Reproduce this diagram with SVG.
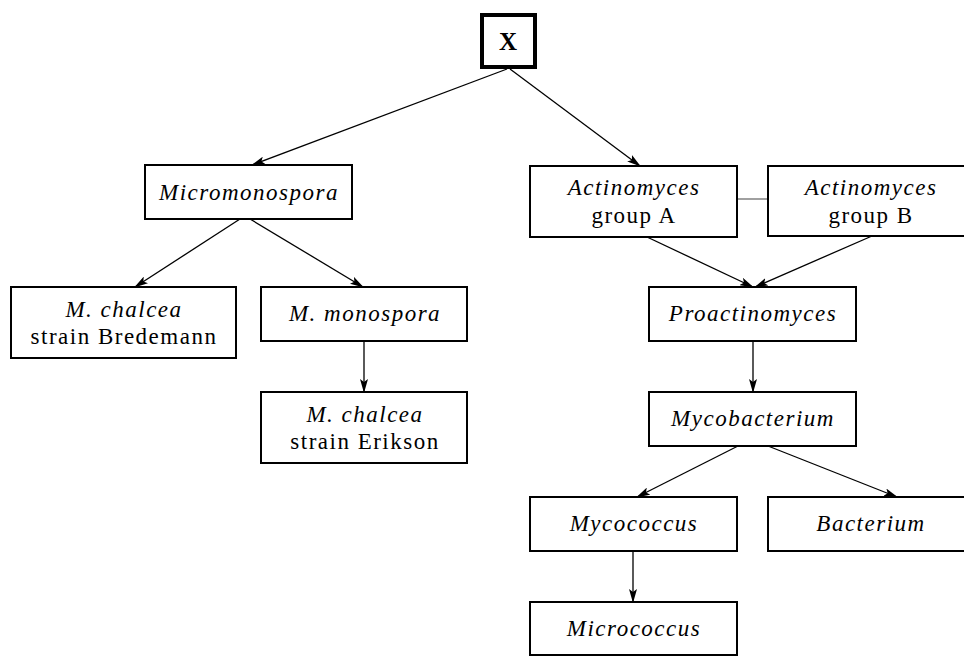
<svg xmlns="http://www.w3.org/2000/svg" width="964" height="656" viewBox="0 0 964 656">
<defs>
<marker id="arr" markerWidth="14" markerHeight="8" refX="13" refY="4" orient="auto" markerUnits="userSpaceOnUse">
<path d="M0,0 L14,4 L0,8 L3,4 Z" fill="#000"/>
</marker>
</defs>
<style>
rect.n{fill:#fff;stroke:#000;stroke-width:2}
text{font-family:"Liberation Serif","Times New Roman",serif;font-size:23px;letter-spacing:1.5px;fill:#000;text-anchor:middle}
.i{font-style:italic}
.c{stroke:#000;stroke-width:1.3;fill:none;marker-end:url(#arr)}
</style>
<rect width="964" height="656" fill="#fff"/>
<g id="connectors">
<line class="c" x1="507" y1="69" x2="252" y2="165"/>
<line class="c" x1="510" y1="69" x2="640" y2="166"/>
<line class="c" x1="240" y1="219" x2="135" y2="287"/>
<line class="c" x1="250" y1="219" x2="363" y2="287"/>
<line class="c" x1="364" y1="341" x2="364" y2="392"/>
<line class="c" x1="647" y1="237" x2="753" y2="287"/>
<line class="c" x1="872" y1="236" x2="755" y2="287"/>
<line class="c" x1="753" y1="341" x2="753" y2="392"/>
<line class="c" x1="738" y1="446" x2="637" y2="497"/>
<line class="c" x1="768" y1="446" x2="897" y2="497"/>
<line class="c" x1="633" y1="551" x2="633" y2="602"/>
<line x1="737" y1="199" x2="768" y2="199" stroke="#808080" stroke-width="1.5"/>
</g>
<g id="X">
<rect x="482" y="15" width="53" height="52" fill="#fff" stroke="#000" stroke-width="4"/>
<text x="508" y="50" style="font-weight:bold;font-size:25px;letter-spacing:0">X</text>
</g>
<g id="micromonospora">
<rect class="n" x="145" y="165" width="207" height="54"/>
<text class="i" x="249" y="200">Micromonospora</text>
</g>
<g id="bredemann">
<rect class="n" x="11" y="287" width="225" height="71"/>
<text class="i" x="124" y="317">M. chalcea</text>
<text x="124" y="344">strain Bredemann</text>
</g>
<g id="monospora">
<rect class="n" x="261" y="287" width="206" height="54"/>
<text class="i" x="365" y="321">M. monospora</text>
</g>
<g id="erikson">
<rect class="n" x="261" y="392" width="206" height="71"/>
<text class="i" x="365" y="422">M. chalcea</text>
<text x="365" y="449">strain Erikson</text>
</g>
<g id="actA">
<rect class="n" x="530" y="166" width="207" height="71"/>
<text class="i" x="634" y="195">Actinomyces</text>
<text x="634" y="223">group A</text>
</g>
<g id="actB">
<rect class="n" x="768" y="166" width="206" height="70"/>
<text class="i" x="871" y="195">Actinomyces</text>
<text x="871" y="223">group B</text>
</g>
<g id="proactinomyces">
<rect class="n" x="649" y="287" width="207" height="54"/>
<text class="i" x="753" y="321">Proactinomyces</text>
</g>
<g id="mycobacterium">
<rect class="n" x="649" y="392" width="207" height="54"/>
<text class="i" x="753" y="426">Mycobacterium</text>
</g>
<g id="mycococcus">
<rect class="n" x="530" y="497" width="207" height="54"/>
<text class="i" x="634" y="531">Mycococcus</text>
</g>
<g id="bacterium">
<rect class="n" x="768" y="497" width="206" height="54"/>
<text class="i" x="871" y="531">Bacterium</text>
</g>
<g id="micrococcus">
<rect class="n" x="530" y="602" width="207" height="53"/>
<text class="i" x="634" y="636">Micrococcus</text>
</g>
</svg>
